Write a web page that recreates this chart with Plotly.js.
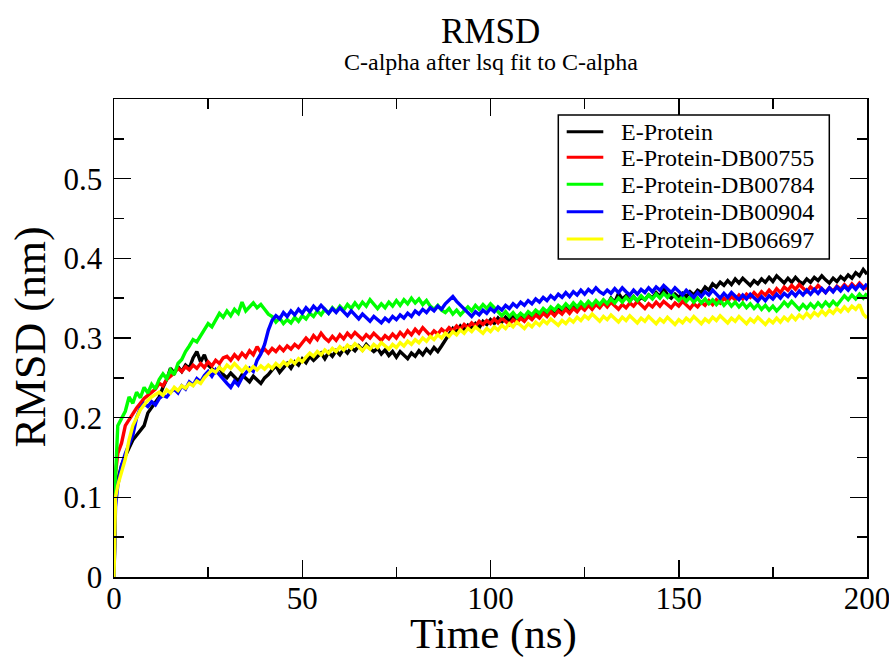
<!DOCTYPE html>
<html>
<head>
<meta charset="utf-8">
<script src="https://cdn.plot.ly/plotly-3.0.1.min.js"></script>
<style>
html,body{margin:0;padding:0;background:#fff;}
#chart{width:889px;height:657px;}
</style>
</head>
<body>
<div id="chart"></div>
<script>
// Time (ns)
const time = [0, 0.4,
 1,2,3,4,5,6,7,8,9,10,
 11,12,13,14,15,16,17,18,19,20,
 21,22,23,24,25,26,27,28,29,30,
 31,32,33,34,35,36,37,38,39,40,
 41,42,43,44,45,46,47,48,49,50,
 51,52,53,54,55,56,57,58,59,60,
 61,62,63,64,65,66,67,68,69,70,
 71,72,73,74,75,76,77,78,79,80,
 81,82,83,84,85,86,87,88,89,90,
 91,92,93,94,95,96,97,98,99,100,
 101,102,103,104,105,106,107,108,109,110,
 111,112,113,114,115,116,117,118,119,120,
 121,122,123,124,125,126,127,128,129,130,
 131,132,133,134,135,136,137,138,139,140,
 141,142,143,144,145,146,147,148,149,150,
 151,152,153,154,155,156,157,158,159,160,
 161,162,163,164,165,166,167,168,169,170,
 171,172,173,174,175,176,177,178,179,180,
 181,182,183,184,185,186,187,188,189,190,
 191,192,193,194,195,196,197,198,199,200];

// RMSD (nm) – E-Protein
const eProtein = [0, 0.105,
 0.122,0.14,0.152,0.163,0.172,0.178,0.184,0.19,0.206,0.213,
 0.22,0.226,0.238,0.248,0.262,0.256,0.264,0.258,0.266,0.262,
 0.275,0.283,0.27,0.279,0.266,0.262,0.257,0.263,0.254,0.25,
 0.256,0.251,0.246,0.254,0.249,0.245,0.252,0.248,0.243,0.25,
 0.254,0.26,0.265,0.257,0.263,0.268,0.262,0.27,0.266,0.274,
 0.269,0.277,0.272,0.276,0.281,0.274,0.282,0.277,0.284,0.279,
 0.286,0.281,0.288,0.284,0.29,0.285,0.292,0.287,0.283,0.287,
 0.28,0.285,0.278,0.283,0.276,0.283,0.279,0.274,0.281,0.277,
 0.284,0.279,0.286,0.281,0.288,0.283,0.29,0.298,0.306,0.312,
 0.307,0.315,0.31,0.316,0.312,0.318,0.313,0.321,0.317,0.323,
 0.318,0.325,0.32,0.326,0.322,0.328,0.324,0.33,0.325,0.331,
 0.327,0.333,0.328,0.334,0.33,0.336,0.331,0.337,0.333,0.339,
 0.334,0.34,0.336,0.342,0.337,0.343,0.339,0.345,0.34,0.347,
 0.342,0.35,0.345,0.356,0.349,0.353,0.347,0.352,0.346,0.351,
 0.348,0.354,0.35,0.357,0.352,0.362,0.354,0.35,0.355,0.351,
 0.356,0.352,0.358,0.354,0.36,0.357,0.364,0.36,0.368,0.364,
 0.37,0.366,0.372,0.367,0.374,0.369,0.375,0.37,0.366,0.372,
 0.368,0.374,0.37,0.376,0.371,0.378,0.373,0.369,0.375,0.37,
 0.376,0.371,0.368,0.374,0.37,0.376,0.372,0.378,0.373,0.369,
 0.375,0.371,0.377,0.373,0.379,0.375,0.382,0.378,0.386,0.38];

// E-Protein-DB00755
const db00755 = [0, 0.13,
 0.155,0.168,0.19,0.198,0.206,0.212,0.218,0.224,0.228,0.232,
 0.236,0.243,0.24,0.248,0.252,0.256,0.262,0.258,0.264,0.26,
 0.266,0.262,0.268,0.263,0.27,0.265,0.272,0.268,0.275,0.277,
 0.272,0.279,0.274,0.281,0.276,0.284,0.279,0.289,0.282,0.286,
 0.281,0.287,0.283,0.289,0.284,0.29,0.286,0.292,0.288,0.294,
 0.3,0.295,0.303,0.298,0.306,0.3,0.296,0.302,0.297,0.304,
 0.299,0.306,0.301,0.307,0.302,0.298,0.304,0.3,0.306,0.301,
 0.297,0.303,0.299,0.305,0.3,0.307,0.302,0.309,0.304,0.311,
 0.306,0.313,0.308,0.303,0.309,0.305,0.311,0.307,0.313,0.309,
 0.315,0.311,0.317,0.313,0.319,0.315,0.321,0.317,0.322,0.318,
 0.324,0.319,0.325,0.321,0.317,0.323,0.319,0.325,0.321,0.327,
 0.323,0.329,0.325,0.331,0.327,0.333,0.328,0.334,0.33,0.336,
 0.331,0.337,0.333,0.339,0.335,0.341,0.336,0.342,0.338,0.344,
 0.339,0.345,0.341,0.336,0.342,0.338,0.344,0.34,0.346,0.341,
 0.337,0.343,0.339,0.345,0.34,0.346,0.342,0.338,0.344,0.34,
 0.346,0.341,0.337,0.343,0.339,0.345,0.341,0.347,0.342,0.348,
 0.344,0.35,0.346,0.352,0.348,0.354,0.349,0.355,0.351,0.357,
 0.352,0.358,0.354,0.36,0.355,0.362,0.357,0.364,0.36,0.366,
 0.361,0.367,0.362,0.358,0.364,0.36,0.366,0.361,0.357,0.363,
 0.359,0.365,0.361,0.367,0.362,0.368,0.363,0.369,0.364,0.362];

// E-Protein-DB00784
const db00784 = [0, 0.125,
 0.19,0.2,0.208,0.226,0.218,0.232,0.225,0.238,0.231,0.242,
 0.236,0.248,0.255,0.249,0.26,0.254,0.268,0.273,0.283,0.29,
 0.298,0.295,0.303,0.31,0.318,0.314,0.322,0.331,0.326,0.334,
 0.328,0.336,0.331,0.345,0.334,0.339,0.344,0.338,0.342,0.336,
 0.33,0.327,0.32,0.325,0.318,0.323,0.319,0.326,0.321,0.328,
 0.324,0.331,0.327,0.334,0.329,0.336,0.331,0.338,0.333,0.34,
 0.335,0.342,0.337,0.344,0.338,0.345,0.34,0.348,0.342,0.337,
 0.343,0.338,0.345,0.34,0.347,0.341,0.348,0.343,0.35,0.344,
 0.349,0.342,0.347,0.34,0.336,0.341,0.335,0.332,0.337,0.33,
 0.335,0.329,0.334,0.339,0.334,0.341,0.336,0.342,0.337,0.343,
 0.338,0.333,0.328,0.333,0.327,0.332,0.326,0.331,0.327,0.333,
 0.329,0.335,0.331,0.337,0.333,0.339,0.335,0.341,0.337,0.343,
 0.338,0.344,0.339,0.345,0.34,0.346,0.341,0.347,0.342,0.348,
 0.343,0.349,0.344,0.35,0.345,0.351,0.346,0.352,0.347,0.353,
 0.348,0.354,0.349,0.355,0.35,0.356,0.351,0.357,0.352,0.347,
 0.352,0.346,0.351,0.345,0.35,0.344,0.349,0.343,0.348,0.342,
 0.347,0.341,0.346,0.34,0.345,0.339,0.344,0.338,0.343,0.337,
 0.342,0.336,0.341,0.335,0.34,0.334,0.339,0.345,0.34,0.346,
 0.341,0.336,0.342,0.337,0.343,0.338,0.344,0.339,0.345,0.34,
 0.346,0.341,0.347,0.353,0.348,0.354,0.349,0.355,0.35,0.356];

// E-Protein-DB00904
const db00904 = [0, 0.088,
 0.115,0.14,0.155,0.168,0.178,0.2,0.212,0.218,0.214,0.22,
 0.216,0.224,0.228,0.226,0.232,0.236,0.231,0.24,0.236,0.245,
 0.241,0.249,0.245,0.253,0.258,0.252,0.26,0.254,0.248,0.243,
 0.238,0.246,0.241,0.25,0.256,0.262,0.258,0.272,0.28,0.292,
 0.31,0.322,0.328,0.324,0.332,0.327,0.334,0.329,0.336,0.331,
 0.338,0.333,0.34,0.335,0.341,0.336,0.331,0.337,0.332,0.338,
 0.333,0.328,0.334,0.329,0.324,0.33,0.325,0.321,0.327,0.323,
 0.319,0.325,0.321,0.327,0.323,0.329,0.325,0.331,0.327,0.334,
 0.33,0.336,0.332,0.338,0.334,0.34,0.336,0.343,0.348,0.352,
 0.346,0.341,0.336,0.331,0.327,0.333,0.329,0.335,0.331,0.337,
 0.333,0.339,0.335,0.341,0.337,0.343,0.339,0.345,0.341,0.347,
 0.343,0.349,0.345,0.351,0.347,0.353,0.349,0.355,0.351,0.357,
 0.352,0.358,0.354,0.36,0.355,0.361,0.357,0.363,0.358,0.355,
 0.36,0.356,0.362,0.357,0.363,0.358,0.354,0.36,0.355,0.361,
 0.357,0.363,0.358,0.364,0.36,0.366,0.361,0.357,0.363,0.358,
 0.354,0.36,0.355,0.351,0.357,0.352,0.358,0.354,0.36,0.355,
 0.35,0.356,0.351,0.357,0.352,0.348,0.354,0.349,0.355,0.35,
 0.346,0.352,0.347,0.353,0.349,0.355,0.35,0.356,0.352,0.358,
 0.353,0.359,0.354,0.36,0.355,0.361,0.356,0.362,0.357,0.363,
 0.358,0.364,0.359,0.365,0.36,0.366,0.361,0.367,0.362,0.368];

// E-Protein-DB06697
const db06697 = [0, 0.1,
 0.115,0.13,0.148,0.172,0.19,0.2,0.21,0.216,0.222,0.226,
 0.229,0.232,0.228,0.235,0.231,0.238,0.234,0.24,0.237,0.243,
 0.24,0.246,0.243,0.25,0.255,0.26,0.257,0.263,0.259,0.266,
 0.262,0.268,0.263,0.258,0.264,0.259,0.264,0.26,0.265,0.261,
 0.266,0.262,0.268,0.264,0.27,0.266,0.272,0.268,0.274,0.27,
 0.276,0.281,0.277,0.283,0.279,0.285,0.281,0.287,0.283,0.289,
 0.285,0.291,0.287,0.293,0.289,0.284,0.29,0.286,0.292,0.288,
 0.294,0.29,0.286,0.292,0.288,0.294,0.29,0.296,0.292,0.298,
 0.294,0.3,0.296,0.302,0.298,0.304,0.3,0.306,0.302,0.308,
 0.304,0.31,0.306,0.312,0.308,0.314,0.31,0.306,0.312,0.308,
 0.314,0.31,0.316,0.312,0.318,0.314,0.32,0.316,0.312,0.318,
 0.314,0.32,0.316,0.322,0.318,0.324,0.32,0.316,0.322,0.318,
 0.324,0.32,0.326,0.322,0.328,0.324,0.33,0.325,0.321,0.327,
 0.323,0.329,0.325,0.32,0.326,0.322,0.328,0.323,0.319,0.325,
 0.321,0.327,0.322,0.318,0.324,0.32,0.326,0.321,0.317,0.323,
 0.319,0.325,0.321,0.327,0.322,0.318,0.324,0.32,0.326,0.322,
 0.328,0.323,0.319,0.325,0.321,0.327,0.322,0.318,0.324,0.32,
 0.326,0.321,0.317,0.323,0.319,0.325,0.32,0.326,0.322,0.328,
 0.323,0.329,0.325,0.331,0.326,0.332,0.328,0.334,0.329,0.335,
 0.331,0.337,0.333,0.339,0.334,0.34,0.336,0.342,0.33,0.325];

const seriesNames = ["E-Protein", "E-Protein-DB00755", "E-Protein-DB00784", "E-Protein-DB00904", "E-Protein-DB06697"];
const seriesValues = [eProtein, db00755, db00784, db00904, db06697];
const seriesColors = ["#000000", "#ff0000", "#00ff00", "#0000ff", "#ffff00"];

const yTickVals = [0, 0.1, 0.2, 0.3, 0.4, 0.5];
const yTickText = ["0", "0.1", "0.2", "0.3", "0.4", "0.5"];
const yMinorVals = [0.05, 0.15, 0.25, 0.35, 0.45, 0.55];

const FONT = "Liberation Serif, Times New Roman, serif";

// Plot area in pixels (used only to place the legend box and titles in paper units)
const PL = 114, PR = 867, PT = 99, PB = 577;
const px = v => (v - PL) / (PR - PL);
const py = v => (PB - v) / (PB - PT);

const traces = seriesNames.map((name, i) => ({
  type: "scatter",
  mode: "lines",
  name: name,
  x: time,
  y: seriesValues[i],
  line: {color: seriesColors[i], width: 3.4},
  hoverinfo: "skip",
  showlegend: false
}));

// Legend (xmgrace style box) built from the series names/colours
const legendRowsY = [131.7, 157.3, 184.3, 211.7, 239];
const shapes = [{
  type: "rect", xref: "paper", yref: "paper",
  x0: px(558.3), x1: px(829.3), y0: py(259), y1: py(115),
  line: {color: "#000", width: 1.5}, fillcolor: "#fff", layer: "above"
}];
const annotations = [];
seriesNames.forEach((name, i) => {
  shapes.push({
    type: "line", xref: "paper", yref: "paper",
    x0: px(566.7), x1: px(603.3), y0: py(legendRowsY[i]), y1: py(legendRowsY[i]),
    line: {color: seriesColors[i], width: 3}, layer: "above"
  });
  annotations.push({
    text: name, xref: "paper", yref: "paper", x: px(619), y: py(legendRowsY[i] + 0.5),
    xanchor: "left", yanchor: "middle", showarrow: false,
    font: {family: FONT, size: 24, color: "#000"}
  });
});

annotations.push(
  {text: "RMSD", xref: "paper", yref: "paper", x: 0.5, y: py(31.2), xanchor: "center", yanchor: "middle",
   showarrow: false, font: {family: FONT, size: 35, color: "#000"}},
  {text: "C-alpha after lsq fit to C-alpha", xref: "paper", yref: "paper", x: 0.5, y: py(62.5), xanchor: "center", yanchor: "middle",
   showarrow: false, font: {family: FONT, size: 24, color: "#000"}},
  {text: "Time (ns)", xref: "paper", yref: "paper", x: px(493), y: py(634), xanchor: "center", yanchor: "middle",
   showarrow: false, font: {family: FONT, size: 43, color: "#000"}},
  {text: "RMSD (nm)", xref: "paper", yref: "paper", x: px(30), y: py(337.5), xanchor: "center", yanchor: "middle",
   textangle: -90, showarrow: false, font: {family: FONT, size: 44, color: "#000"}}
);

const axisCommon = {
  showline: true, linecolor: "#000", linewidth: 1.5, mirror: "allticks",
  ticks: "inside", ticklen: 17, tickwidth: 1.5, tickcolor: "#000",
  showgrid: false, zeroline: false,
  tickfont: {family: FONT, size: 31, color: "#000"},
  ticklabeloverflow: "allow"
};

const layout = {
  width: 889, height: 657,
  paper_bgcolor: "#fff", plot_bgcolor: "#fff",
  margin: {l: PL, r: 889 - PR, t: PT, b: 657 - PB},
  showlegend: false,
  xaxis: Object.assign({}, axisCommon, {
    range: [0, 200], autorange: false, dtick: 50, tick0: 0,
    minor: {dtick: 25, ticks: "inside", ticklen: 10, tickwidth: 1.5, tickcolor: "#000"},
    ticklabelstandoff: -7
  }),
  yaxis: Object.assign({}, axisCommon, {
    range: [0, 0.6], autorange: false,
    tickmode: "array", tickvals: yTickVals, ticktext: yTickText,
    minor: {tickmode: "array", tickvals: yMinorVals, ticks: "inside", ticklen: 10, tickwidth: 1.5, tickcolor: "#000"},
    ticklabelstandoff: 4
  }),
  shapes: shapes,
  annotations: annotations
};

Plotly.newPlot("chart", traces, layout, {displayModeBar: false, staticPlot: true});
</script>
</body>
</html>
